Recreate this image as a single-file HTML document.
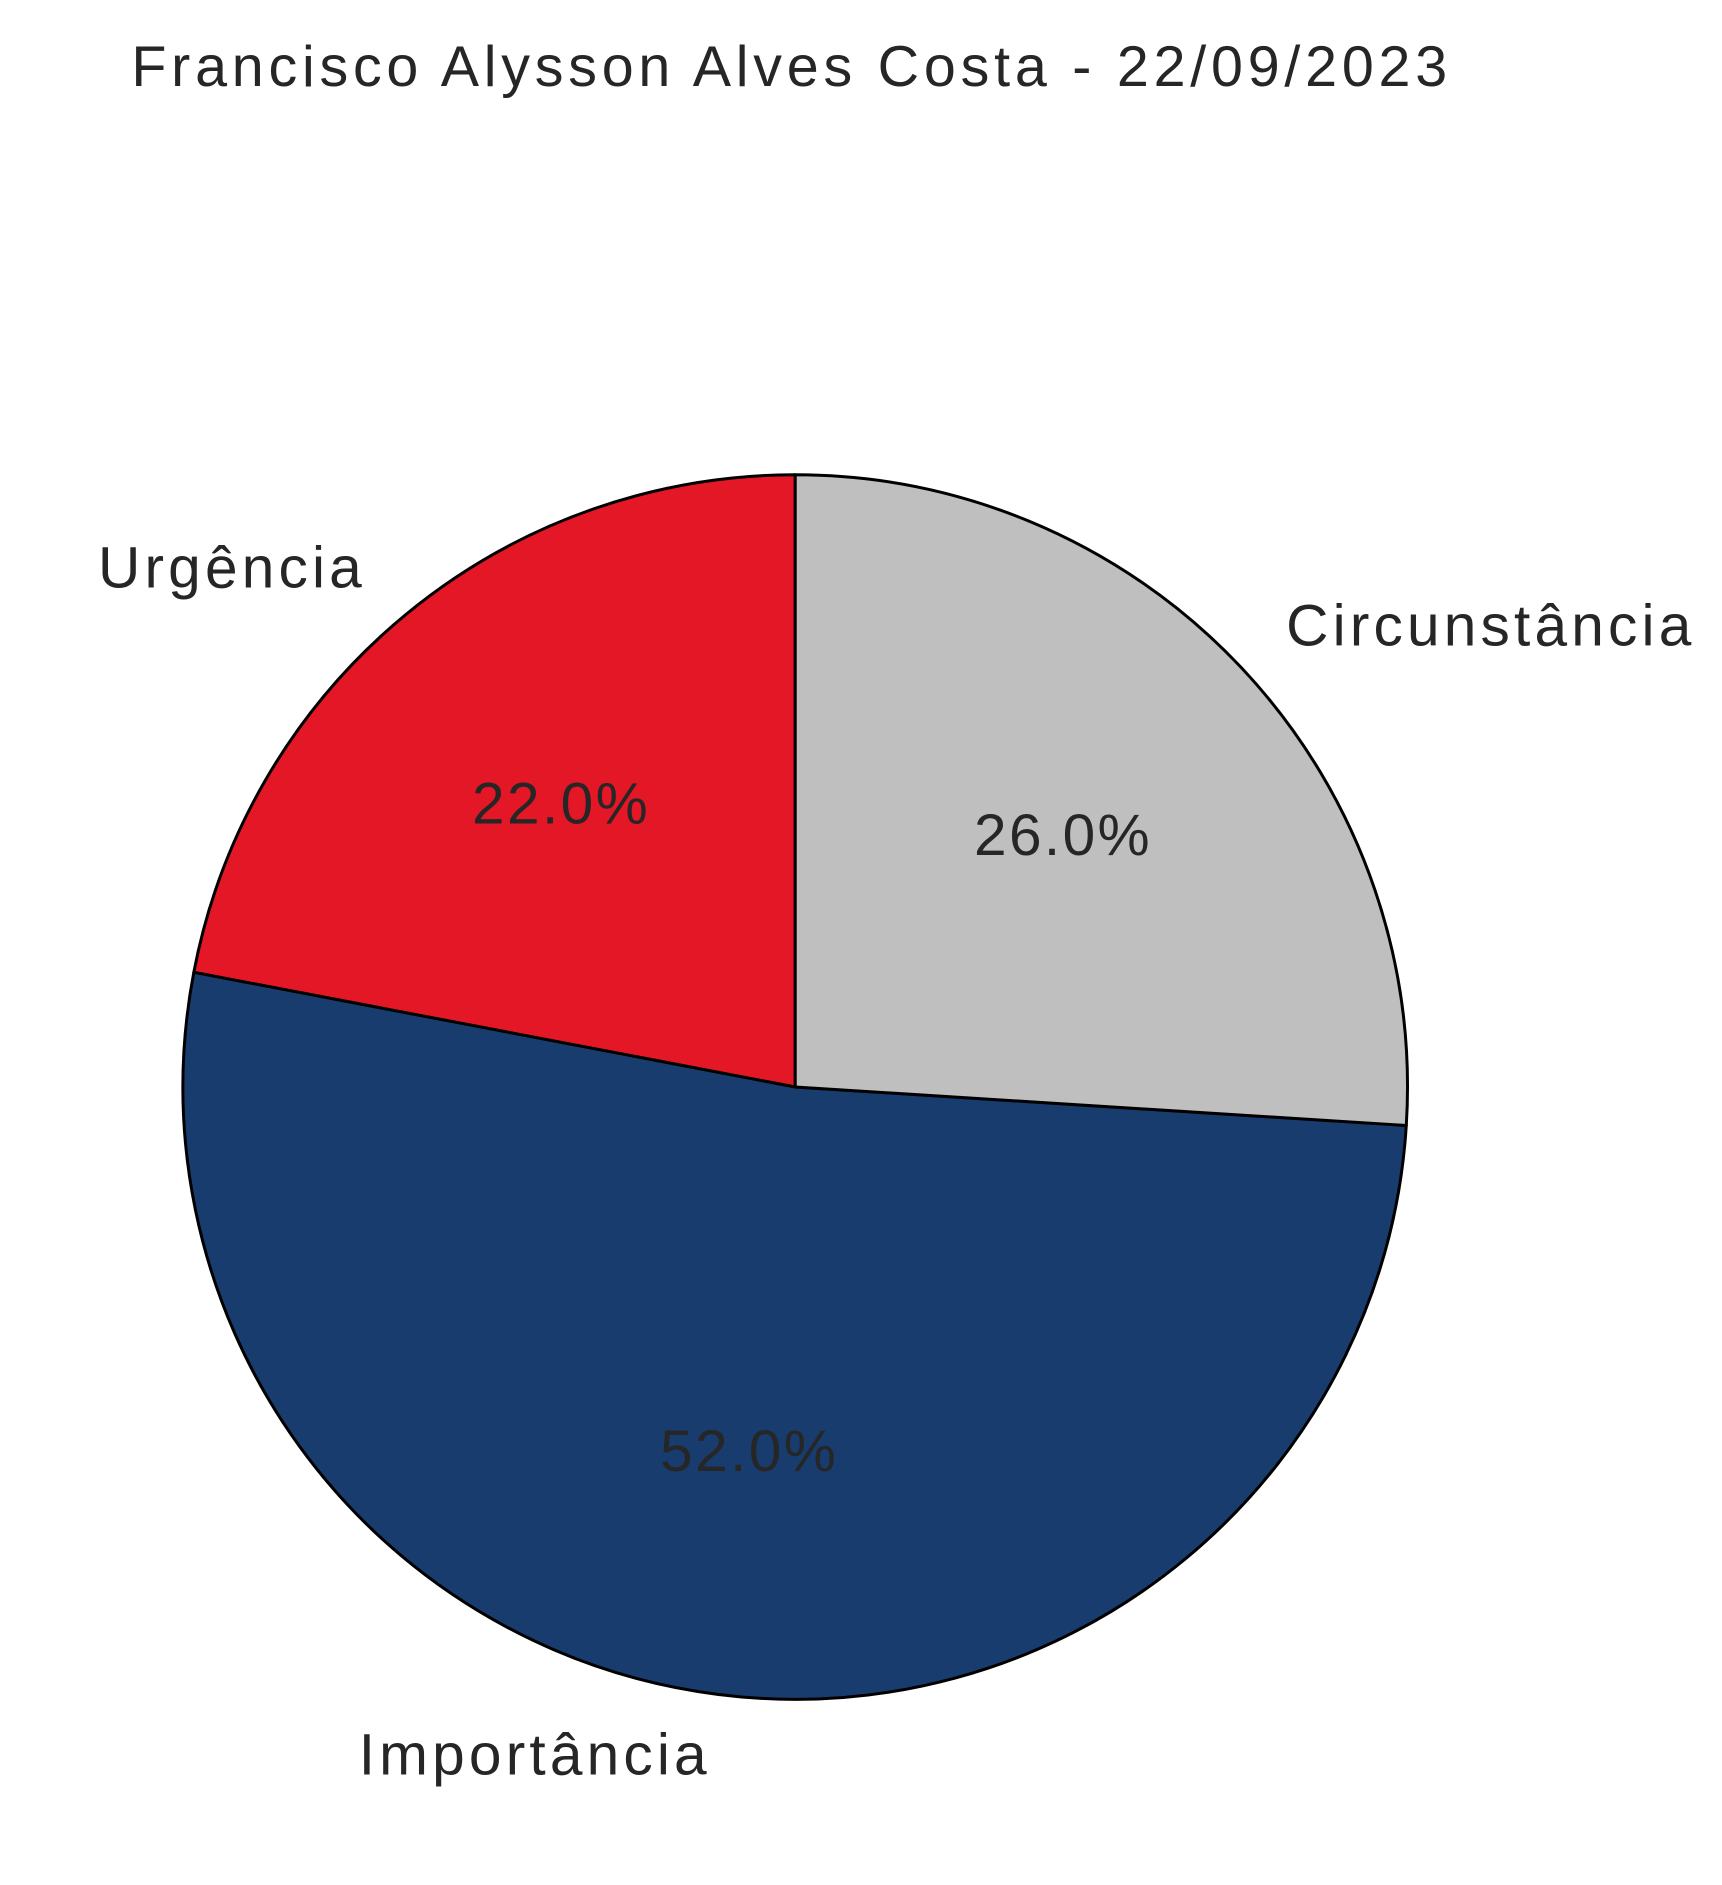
<!DOCTYPE html>
<html><head><meta charset="utf-8"><style>
html,body{margin:0;padding:0;background:#fff;}
svg{display:block;}
text{font-family:"Liberation Sans",sans-serif;fill:#262626;}
</style></head><body>
<svg id="chart" width="1722" height="1885" viewBox="0 0 1440 1576.3" xmlns="http://www.w3.org/2000/svg">
<text x="662" y="72" font-size="48" letter-spacing="4" text-anchor="middle">Francisco Alysson Alves Costa - 22/09/2023</text>
<g id="slices"></g>
<g id="labels"></g>
</svg>
<script>
const categories = ["Urgência", "Importância", "Circunstância"];
const values = [22, 52, 26];
const colors = ["#E31726", "#193C6E", "#BEBFBE"];

const cx = 665, cy = 909, r = 512, startAngle = 90;
const svgNS = "http://www.w3.org/2000/svg";
const gS = document.getElementById('slices'), gL = document.getElementById('labels');
const total = values.reduce((a,b)=>a+b,0);
function pt(deg, rad){const a=deg*Math.PI/180;return [cx+rad*Math.cos(a), cy-rad*Math.sin(a)];}
let a0 = startAngle;
values.forEach((v,i)=>{
  const sweep = v/total*360, a1 = a0+sweep;
  const p0=pt(a0,r), p1=pt(a1,r);
  const path=document.createElementNS(svgNS,'path');
  path.setAttribute('d',`M${cx},${cy} L${p0[0]},${p0[1]} A${r},${r} 0 ${sweep>180?1:0} 0 ${p1[0]},${p1[1]} Z`);
  path.setAttribute('fill',colors[i]);
  path.setAttribute('stroke','#000');
  path.setAttribute('stroke-width','2.5');
  path.setAttribute('stroke-linejoin','round');
  
  
  gS.appendChild(path);
  const mid=(a0+a1)/2, c=Math.cos(mid*Math.PI/180);
  const lp=pt(mid,r*1.1);
  const t=document.createElementNS(svgNS,'text');
  t.setAttribute('x',lp[0]); t.setAttribute('y',lp[1]);
  t.setAttribute('font-size','49');
  t.setAttribute('letter-spacing','3.5');
  t.setAttribute('text-anchor',c<0?'end':'start');
  t.setAttribute('dominant-baseline','central');
  
  
  t.textContent=categories[i];
  gL.appendChild(t);
  const pp=pt(mid,r*0.6);
  const tp=document.createElementNS(svgNS,'text');
  tp.setAttribute('x',pp[0]); tp.setAttribute('y',pp[1]);
  tp.setAttribute('font-size','49');
  tp.setAttribute('letter-spacing','2');
  tp.setAttribute('text-anchor','middle');
  tp.setAttribute('dominant-baseline','central');
  
  
  tp.textContent=(v/total*100).toFixed(1)+'%';
  gL.appendChild(tp);
  a0=a1;
});
</script>
</body></html>
